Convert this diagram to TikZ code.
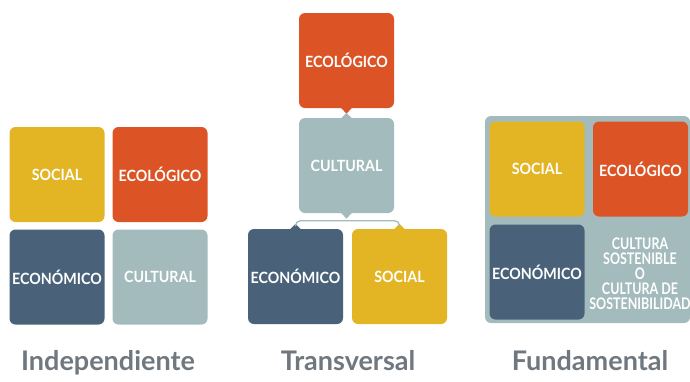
\documentclass[tikz,border=0pt]{standalone}
\usepackage{fontspec}
\setmainfont{Lato}
\newfontfamily\pillarfont{Lato}[FakeStretch=0.92]
\newfontfamily\narrowfont{Lato}[FakeStretch=0.78]
\usepackage{xcolor}
\usepackage{tikz}
\usetikzlibrary{calc}

\definecolor{socialc}{HTML}{E3B424}
\definecolor{ecologc}{HTML}{DC5426}
\definecolor{economc}{HTML}{4A6279}
\definecolor{culturc}{HTML}{A3BBBC}
\definecolor{labelc}{HTML}{6F777F}

\tikzset{
  pillar/.style={rectangle,rounded corners=6pt,minimum width=95pt,minimum height=95pt,
    inner sep=0pt,text=white,font=\pillarfont\bfseries\fontsize{15.5}{18}\selectfont},
  socialbox/.style={pillar,fill=socialc},
  ecologbox/.style={pillar,fill=ecologc},
  econombox/.style={pillar,fill=economc},
  culturbox/.style={pillar,fill=culturc},
  caption/.style={anchor=base,text=labelc,font=\bfseries\fontsize{27}{32}\selectfont},
}

\begin{document}
\begin{tikzpicture}[x=1pt,y=-1pt,line join=round]
  \useasboundingbox (0,0) rectangle (690,381);
  % Independiente
  \node[socialbox] (S1) at (57.0,174.5) {SOCIAL};
  \node[ecologbox] (E1) at (160.0,174.5) {ECOLÓGICO};
  \node[econombox] (N1) at (57.0,277.0) {ECONÓMICO};
  \node[culturbox] (C1) at (160.0,277.0) {CULTURAL};
  \node[caption] (L1) at (108.0,370.5) {Independiente};
  % Transversal
  \node[ecologbox] (E2) at (346.5,60.5) {ECOLÓGICO};
  \node[culturbox] (C2) at (346.5,165.5) {CULTURAL};
  \node[econombox] (N2) at (295.5,276.5) {ECONÓMICO};
  \node[socialbox] (S2) at (399.5,276.5) {SOCIAL};
  \node[caption] (L2) at (348.0,370.5) {Transversal};
  \fill[ecologc] ($(E2.south)+(-6,-1)$) -- ($(E2.south)+(0,5.5)$) -- ($(E2.south)+(6,-1)$) -- cycle;
  \fill[culturc] ($(C2.north)+(-6,1)$) -- ($(C2.north)+(0,-5)$) -- ($(C2.north)+(6,1)$) -- cycle;
  \fill[culturc] ($(C2.south)+(-6,-1)$) -- ($(C2.south)+(0,5.5)$) -- ($(C2.south)+(6,-1)$) -- cycle;
  \fill[economc] ($(N2.north)+(-6,1)$) -- ($(N2.north)+(0,-5)$) -- ($(N2.north)+(6,1)$) -- cycle;
  \fill[socialc] ($(S2.north)+(-6,1)$) -- ($(S2.north)+(0,-5)$) -- ($(S2.north)+(6,1)$) -- cycle;
  \draw[culturc,line width=1.3pt,rounded corners=5pt]
    ($(N2.north)+(0,-4)$) |- ($(C2.south)+(0,7.5)$) -| ($(S2.north)+(0,-4)$);
  % Fundamental
  \fill[culturc,rounded corners=6pt] (485,116) rectangle (690,323);
  \node[socialbox] (S3) at (537.0,169.0) {SOCIAL};
  \node[ecologbox] (E3) at (640.5,169.0) {ECOLÓGICO};
  \node[econombox] (N3) at (537.0,272.0) {ECONÓMICO};
  \node[align=center,text=white,inner sep=0pt,font=\narrowfont\bfseries\fontsize{16}{15}\selectfont] (T3) at (640.0,273.5)
    {CULTURA\\SOSTENIBLE\\O\\CULTURA DE\\SOSTENIBILIDAD};
  \node[caption] (L3) at (590.0,370.5) {Fundamental};
\end{tikzpicture}
\end{document}
